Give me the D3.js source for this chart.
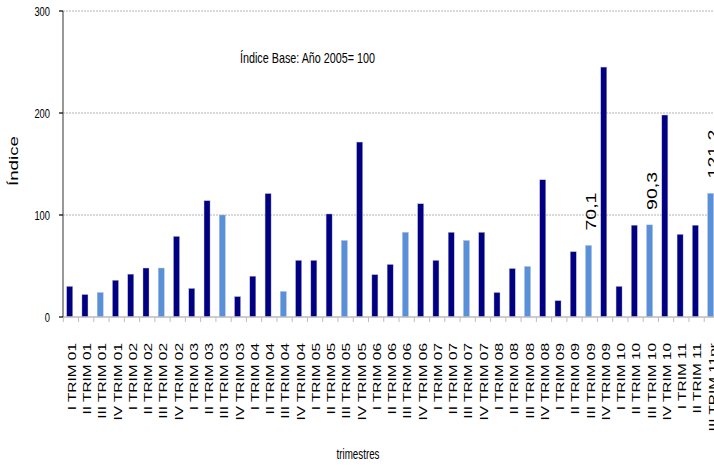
<!DOCTYPE html>
<html>
<head>
<meta charset="utf-8">
<script src="https://cdn.jsdelivr.net/npm/d3@7"></script>
<style>
  body { margin: 0; background: #fff; }
  svg { display: block; }
  text { font-family: "Liberation Sans", Arial, sans-serif; }
</style>
</head>
<body>
<div id="chart"></div>
<script>
// quarters and index values (base 2005 = 100)
var quarters = [
    "I TRIM 01", "II TRIM 01", "III TRIM 01", "IV TRIM 01",
    "I TRIM 02", "II TRIM 02", "III TRIM 02", "IV TRIM 02",
    "I TRIM 03", "II TRIM 03", "III TRIM 03", "IV TRIM 03",
    "I TRIM 04", "II TRIM 04", "III TRIM 04", "IV TRIM 04",
    "I TRIM 05", "II TRIM 05", "III TRIM 05", "IV TRIM 05",
    "I TRIM 06", "II TRIM 06", "III TRIM 06", "IV TRIM 06",
    "I TRIM 07", "II TRIM 07", "III TRIM 07", "IV TRIM 07",
    "I TRIM 08", "II TRIM 08", "III TRIM 08", "IV TRIM 08",
    "I TRIM 09", "II TRIM 09", "III TRIM 09", "IV TRIM 09",
    "I TRIM 10", "II TRIM 10", "III TRIM 10", "IV TRIM 10",
    "I TRIM 11", "II TRIM 11", "III TRIM 11pr"
];
var values = [
    30, 22, 24, 36,
    42, 48, 48, 79,
    28, 114, 100, 20,
    40, 121, 25, 55.5,
    55.5, 101, 75, 171.5,
    41.5, 51.5, 83, 111,
    55.5, 83, 75, 83,
    24, 47.5, 49.5, 134.5,
    16, 64, 70.1, 245,
    30, 90, 90.3, 198,
    81, 90, 121.2
];
// labels written above some bars
var labeled = { "III TRIM 09": "70,1", "III TRIM 10": "90,3", "III TRIM 11pr": "121,2" };
var yTicks = [0, 100, 200, 300];

var width = 714,
    height = 466;

var svg = d3.select("#chart")
    .append("svg")
    .attr("width", width)
    .attr("height", height);

var x = d3.scaleBand()
    .domain(quarters)
    .range([63.3, 63.3 + quarters.length * 15.26])
    .padding(0);

var y = d3.scaleLinear()
    .domain([0, 300])
    .range([317, 11]);

var barW = 6;

// grid lines
svg.selectAll("line.grid")
    .data(yTicks.filter(function (d) { return d > 0; }))
    .enter()
    .append("line")
    .attr("x1", 63)
    .attr("x2", width)
    .attr("y1", function (d) { return y(d); })
    .attr("y2", function (d) { return y(d); })
    .attr("stroke", "#b3b3b3")
    .attr("stroke-width", 1.2)
    .attr("stroke-dasharray", "2,1");

// bars
svg.selectAll("rect.bar")
    .data(quarters)
    .enter()
    .append("rect")
    .attr("x", function (d) { return x(d) + 3.4; })
    .attr("width", barW)
    .attr("y", function (d, i) { return y(values[i]); })
    .attr("height", function (d, i) { return y(0) - y(values[i]); })
    .attr("fill", function (d) {
        return d.indexOf("III ") === 0 ? "#5891d8" : "#000080";
    })
    .attr("stroke", "#b8b8e6")
    .attr("stroke-width", 0.4);

// x axis
svg.append("line")
    .attr("x1", 63).attr("x2", width)
    .attr("y1", y(0)).attr("y2", y(0))
    .attr("stroke", "#bdbdbd").attr("stroke-width", 1.5);

svg.selectAll("line.xtick")
    .data(quarters)
    .enter()
    .append("line")
    .attr("x1", function (d) { return x(d); })
    .attr("x2", function (d) { return x(d); })
    .attr("y1", y(0))
    .attr("y2", y(0) + 5)
    .attr("stroke", "#bdbdbd");

svg.selectAll("text.xlab")
    .data(quarters)
    .enter()
    .append("text")
    .attr("text-anchor", "end")
    .attr("font-size", 11)
    .attr("fill", "#000")
    .attr("transform", function (d) {
        return "translate(" + (x(d) + x.bandwidth() / 2 + 4.8) + ",343) rotate(-90) scale(1.4,1)";
    })
    .text(function (d) { return d; });

// y axis
svg.append("line")
    .attr("x1", 63).attr("x2", 63)
    .attr("y1", y(300)).attr("y2", y(0))
    .attr("stroke", "#7f7f7f").attr("stroke-width", 1.6);

svg.selectAll("line.ytick")
    .data(yTicks)
    .enter()
    .append("line")
    .attr("x1", 59).attr("x2", 63)
    .attr("y1", function (d) { return y(d); })
    .attr("y2", function (d) { return y(d); })
    .attr("stroke", "#000").attr("stroke-width", 1.2);

// condensed tick numbers (the source uses a narrow face)
svg.selectAll("text.ylab")
    .data(yTicks)
    .enter()
    .append("text")
    .attr("text-anchor", "end")
    .attr("font-size", 13)
    .attr("transform", function (d) {
        return "translate(50," + (y(d) + 4.5) + ") scale(0.72,1)";
    })
    .text(function (d) { return d; });

// value labels above bars
svg.selectAll("text.val")
    .data(quarters.filter(function (d) { return labeled[d]; }))
    .enter()
    .append("text")
    .attr("font-size", 15)
    .attr("transform", function (d) {
        var i = quarters.indexOf(d);
        return "translate(" + (x(d) + 3.4 + barW / 2 + 7) + "," + (y(values[i]) - 15) + ") rotate(-90) scale(1.3,1)";
    })
    .text(function (d) { return labeled[d]; });

// titles
svg.append("text")
    .attr("font-size", 14)
    .attr("transform", "translate(240,63) scale(0.77,1)")
    .text("Índice Base: Año 2005= 100");

svg.append("text")
    .attr("text-anchor", "middle")
    .attr("font-size", 12.5)
    .attr("transform", "translate(18,161) rotate(-90) scale(1.5,1)")
    .text("Índice");

svg.append("text")
    .attr("text-anchor", "middle")
    .attr("font-size", 14)
    .attr("transform", "translate(358,459) scale(0.7,1)")
    .text("trimestres");
</script>
</body>
</html>
